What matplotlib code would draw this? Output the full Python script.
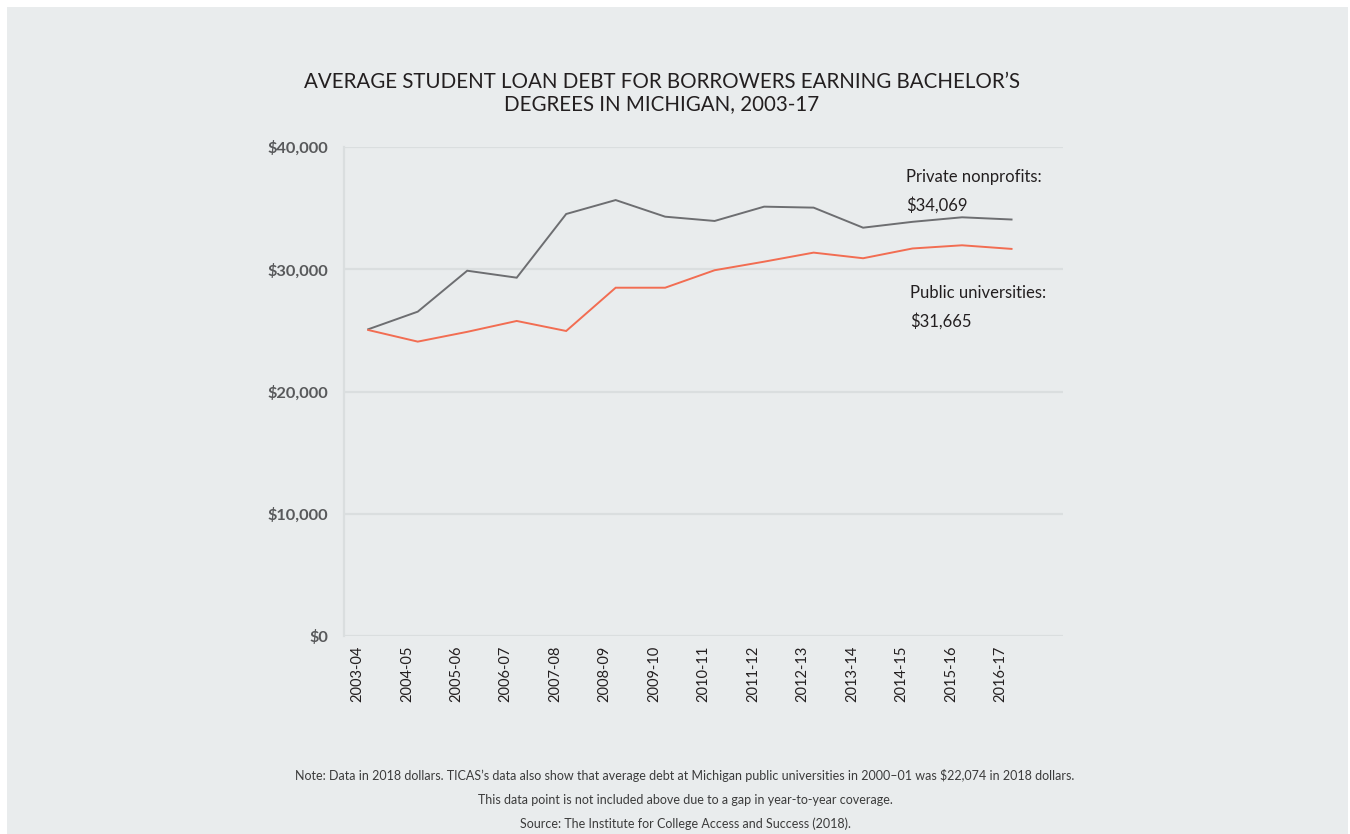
import matplotlib
matplotlib.use("Agg")
import matplotlib.pyplot as plt
from matplotlib.patches import Rectangle
from matplotlib.ticker import FuncFormatter
import numpy as np

years = ["2003-04", "2004-05", "2005-06", "2006-07", "2007-08", "2008-09", "2009-10",
         "2010-11", "2011-12", "2012-13", "2013-14", "2014-15", "2015-16", "2016-17"]
private_nonprofits = [25090, 26530, 29880, 29310, 34520, 35660, 34300,
                      33950, 35120, 35040, 33400, 33880, 34250, 34069]
public_universities = [25030, 24080, 24880, 25770, 24950, 28490, 28490,
                       29920, 30620, 31360, 30900, 31700, 31960, 31665]
y_ticks = [0, 10000, 20000, 30000, 40000]

BG = "#e9eced"
GRID = "#dadedf"
GRAY_LINE = "#6d6e71"
ORANGE_LINE = "#f26d52"
DARK = "#231f20"
FONT = "Lato"

W, H = 1350, 834
fig = plt.figure(figsize=(W / 100, H / 100), dpi=100, facecolor="white")
fig.patches.append(Rectangle((7 / W, 0), (1348 - 7) / W, (H - 7) / H,
                             transform=fig.transFigure, facecolor=BG,
                             edgecolor="none", zorder=-10))

ax = fig.add_axes([344 / W, 1 - 636 / H, (1063 - 344) / W, (636 - 147) / H])
ax.set_facecolor(BG)
ax.patch.set_alpha(0)

x = np.arange(len(years))
ax.plot(x, private_nonprofits, color=GRAY_LINE, lw=1.4, solid_joinstyle="miter", zorder=3)
ax.plot(x, public_universities, color=ORANGE_LINE, lw=1.4, solid_joinstyle="miter", zorder=3)

ax.set_xlim(-0.49, 14.04)
ax.set_ylim(0, 40000)
ax.set_yticks(y_ticks)
ax.yaxis.set_major_formatter(FuncFormatter(lambda v, p: f"${v:,.0f}"))
ax.grid(axis="y", color=GRID, lw=1.6, zorder=0)
ax.set_axisbelow(True)

for side in ["top", "right", "bottom"]:
    ax.spines[side].set_visible(False)
ax.spines["left"].set_color(GRID)
ax.spines["left"].set_linewidth(1.6)

ax.set_xticks(x - 0.22)
ax.set_xticklabels(years, rotation=90, fontsize=10.5, color=DARK, family=FONT)
ax.tick_params(axis="x", length=0, pad=7)
ax.tick_params(axis="y", length=0, pad=11.5, labelsize=11.8, labelcolor="#58595b")
for lbl in ax.get_yticklabels():
    lbl.set_family(FONT)
    lbl.set_fontweight("bold")

# end-of-line callouts
ax.text(10.87, 37550, "Private nonprofits:", fontsize=12, color=DARK, family=FONT,
        va="center", ha="left")
ax.text(10.87, 35250, f"${private_nonprofits[-1]:,}", fontsize=12, color=DARK,
        family=FONT, va="center", ha="left")
ax.text(10.95, 28060, "Public universities:", fontsize=12, color=DARK, family=FONT,
        va="center", ha="left")
ax.text(10.95, 25770, f"${public_universities[-1]:,}", fontsize=12, color=DARK,
        family=FONT, va="center", ha="left")

fig.text(662 / W, 1 - 93 / H,
         "AVERAGE STUDENT LOAN DEBT FOR BORROWERS EARNING BACHELOR\u2019S\nDEGREES IN MICHIGAN, 2003-17",
         ha="center", va="center", fontsize=14.8, color=DARK, family=FONT,
         linespacing=1.1)

notes = [
    "Note: Data in 2018 dollars. TICAS\u2019s data also show that average debt at Michigan public universities in 2000\u201301 was $22,074 in 2018 dollars.",
    "This data point is not included above due to a gap in year-to-year coverage.",
    "Source: The Institute for College Access and Success (2018).",
]
for i, line in enumerate(notes):
    fig.text(685 / W, 1 - (776 + 24 * i) / H, line, ha="center", va="center",
             fontsize=9.0, color="#3b3b3b", family=FONT)

fig.savefig("out.png", dpi=100, facecolor="white")
